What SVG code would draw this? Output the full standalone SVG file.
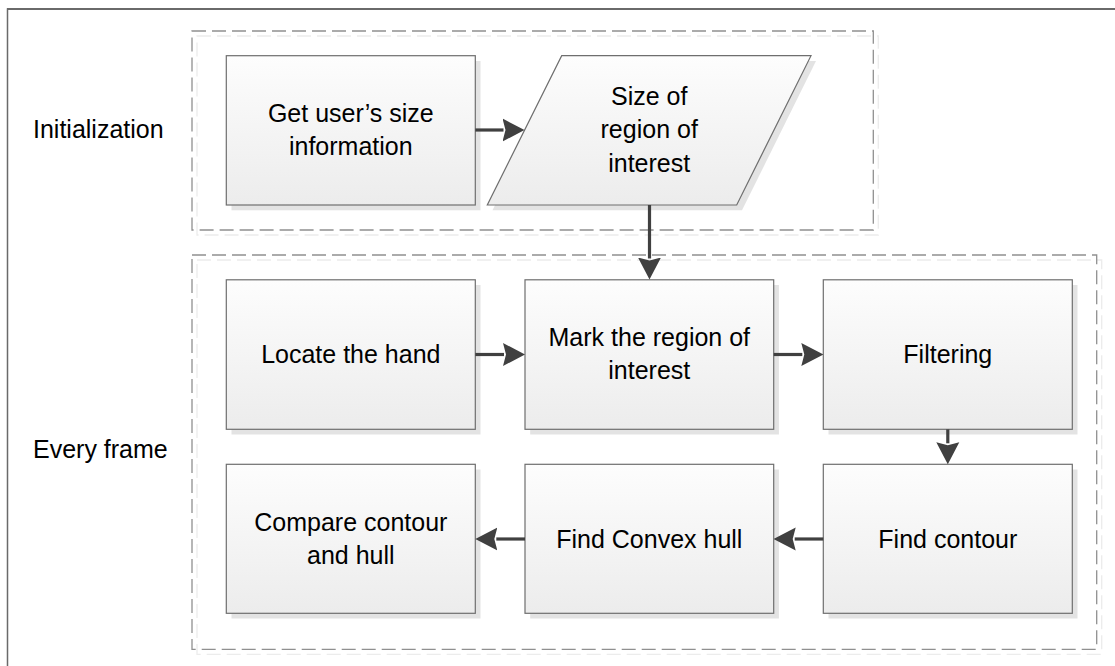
<svg xmlns="http://www.w3.org/2000/svg" width="1115" height="666" viewBox="0 0 1115 666">
<defs>
<linearGradient id="fillG" x1="0" y1="0" x2="0" y2="1">
<stop offset="0" stop-color="#fdfdfd"/>
<stop offset="1" stop-color="#ececec"/>
</linearGradient>
<marker id="ah" viewBox="0 -12 22 24" refX="1" refY="0" markerWidth="22" markerHeight="24" markerUnits="userSpaceOnUse" orient="auto">
<path d="M0,-11.5 L22,0 L0,11.5 L3,0 z" fill="#404040"/>
</marker>
<style>
.frame{fill:none;stroke:#6a6a6a;stroke-width:1.5}
.grp{fill:none;stroke:#909090;stroke-width:1.3;stroke-dasharray:14 6}
.grps{fill:none;stroke:#ececec;stroke-width:1.3;stroke-dasharray:14 6}
.sh{fill:#e3e3e3;stroke:none}
.box{fill:url(#fillG);stroke:#6e6e6e;stroke-width:1.2}
.t{font-family:"Liberation Sans",Arial,sans-serif;font-size:25px;fill:#000;text-anchor:middle}
.lab{font-family:"Liberation Sans",Arial,sans-serif;font-size:25px;fill:#000}
.con{stroke:#404040;stroke-width:3.2;fill:none;marker-end:url(#ah)}
</style>
</defs>
<rect width="1115" height="666" fill="#ffffff"/>
<path class="frame" d="M7.5,666 V9 H1115"/>
<path d="M7,9 H1115" stroke="#6a6a6a" stroke-width="2.2" fill="none"/>

<g id="groups">
<rect class="grps" x="197" y="36" width="681.3" height="199"/>
<rect class="grp" x="192" y="31" width="681.3" height="199"/>
<rect class="grps" x="197" y="260" width="904.7" height="394.3"/>
<rect class="grp" x="192" y="255" width="904.7" height="394.3"/>
</g>

<g id="labels">
<text class="lab" x="33" y="138">Initialization</text>
<text class="lab" x="33" y="458">Every frame</text>
</g>

<g id="n1">
<rect class="sh" x="231.5" y="61" width="249" height="149.3"/>
<rect class="box" x="226.3" y="55.7" width="249" height="149.3"/>
<text class="t" x="350.8" y="122">Get user’s size</text>
<text class="t" x="350.8" y="155">information</text>
</g>

<g id="n2">
<polygon class="sh" points="567,61 816,61 742,210.3 492.5,210.3"/>
<polygon class="box" points="561.7,55.7 811,55.7 736.7,205 487.3,205"/>
<text class="t" x="649.2" y="105">Size of</text>
<text class="t" x="649.2" y="138">region of</text>
<text class="t" x="649.2" y="171.5">interest</text>
</g>

<g id="n3">
<rect class="sh" x="231.5" y="285" width="249" height="149.5"/>
<rect class="box" x="226.3" y="279.8" width="249" height="149.5"/>
<text class="t" x="350.8" y="363.3">Locate the hand</text>
</g>

<g id="n4">
<rect class="sh" x="530.2" y="285" width="248.7" height="149.5"/>
<rect class="box" x="525" y="279.8" width="248.7" height="149.5"/>
<text class="t" x="649.3" y="346.3">Mark the region of</text>
<text class="t" x="649.3" y="379.3">interest</text>
</g>

<g id="n5">
<rect class="sh" x="828.5" y="285" width="249" height="149.5"/>
<rect class="box" x="823.3" y="279.8" width="249" height="149.5"/>
<text class="t" x="947.8" y="363.3">Filtering</text>
</g>

<g id="n6">
<rect class="sh" x="828.5" y="469.5" width="249" height="149"/>
<rect class="box" x="823.3" y="464.3" width="249" height="149"/>
<text class="t" x="947.8" y="547.5">Find contour</text>
</g>

<g id="n7">
<rect class="sh" x="530.2" y="469.5" width="248.7" height="149"/>
<rect class="box" x="525" y="464.3" width="248.7" height="149"/>
<text class="t" x="649.3" y="547.5">Find Convex hull</text>
</g>

<g id="n8">
<rect class="sh" x="231.5" y="469.5" width="249" height="149"/>
<rect class="box" x="226.3" y="464.3" width="249" height="149"/>
<text class="t" x="350.8" y="530.5">Compare contour</text>
<text class="t" x="350.8" y="563.5">and hull</text>
</g>

<g id="connectors">
<line class="con" x1="475.3" y1="130" x2="503.5" y2="130"/>
<line class="con" x1="649.5" y1="205" x2="649.5" y2="258.5"/>
<line class="con" x1="475.3" y1="354.5" x2="504" y2="354.5"/>
<line class="con" x1="773.7" y1="354.5" x2="802.3" y2="354.5"/>
<line class="con" x1="947.8" y1="429.3" x2="947.8" y2="443.3"/>
<line class="con" x1="823.3" y1="539" x2="794.7" y2="539"/>
<line class="con" x1="525" y1="539" x2="496.3" y2="539"/>
</g>
</svg>
